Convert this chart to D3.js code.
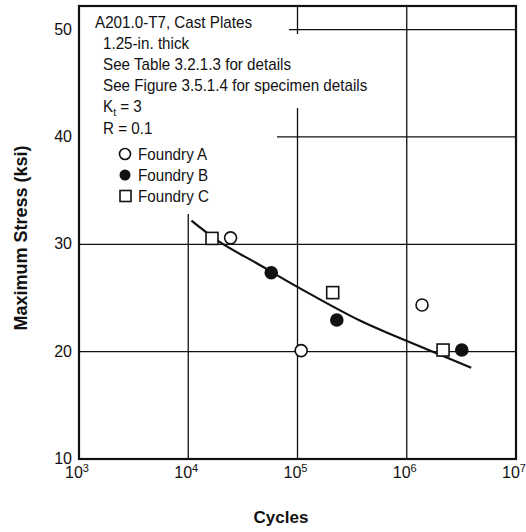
<!DOCTYPE html>
<html><head><meta charset="utf-8">
<script src="https://cdn.jsdelivr.net/npm/d3@7"></script>
<style>
body{margin:0;background:#fff;}
svg{display:block;}
text{font-family:"Liberation Sans Narrow","Arial Narrow","Liberation Sans",sans-serif;fill:#111;}
</style></head>
<body>
<svg id="chart" width="526" height="532"></svg>
<script>
// ---- data ----
const xTicks = [1e3, 1e4, 1e5, 1e6, 1e7];
const xTickExp = ["3", "4", "5", "6", "7"];
const yTicks = [10, 20, 30, 40, 50];
const gridX = [1e4, 1e5, 1e6];
const gridY = [20, 30, 40, 50];

const foundryA = [[2.44e4, 30.6], [1.08e5, 20.1], [1.38e6, 24.35]];
const foundryB = [[5.75e4, 27.35], [2.29e5, 22.95], [3.19e6, 20.15]];
const foundryC = [[1.65e4, 30.55], [2.10e5, 25.5], [2.15e6, 20.15]];

const fitN = [1.07e4, 1.95e4, 4.47e4, 9.33e4, 3.72e5, 8.51e5, 3.89e6];
const fitS = [32.2, 30.2, 28.1, 26.2, 22.9, 21.3, 18.5];

const noteLines = ["1.25-in. thick", "See Table 3.2.1.3 for details", "See Figure 3.5.1.4 for specimen details"];
const legendNames = ["Foundry A", "Foundry B", "Foundry C"];

// ---- layout ----
const svg = d3.select("#chart");
const x = d3.scaleLog().domain([1e3, 1e7]).range([79, 516]);
const y = d3.scaleLinear().domain([10, 52.2]).range([459, 6]);
const ink = "#111";
const squeeze = 0.95;

// grid
svg.append("g").selectAll("line").data(gridX).join("line")
  .attr("x1", d => x(d)).attr("x2", d => x(d))
  .attr("y1", y.range()[1]).attr("y2", y.range()[0])
  .attr("stroke", ink).attr("stroke-width", 1.3);
svg.append("g").selectAll("line").data(gridY).join("line")
  .attr("y1", d => y(d)).attr("y2", d => y(d))
  .attr("x1", x.range()[0]).attr("x2", x.range()[1])
  .attr("stroke", ink).attr("stroke-width", 1.3);

// white panel behind the notes (masks grid)
svg.append("rect").attr("x", 80).attr("y", 7).attr("width", 209).attr("height", 101).attr("fill", "#fff");
svg.append("rect").attr("x", 80).attr("y", 34).attr("width", 222).attr("height", 74).attr("fill", "#fff");
svg.append("rect").attr("x", 80).attr("y", 7).attr("width", 197).attr("height", 207).attr("fill", "#fff");

// frame
svg.append("rect").attr("x", x.range()[0]).attr("y", y.range()[1])
  .attr("width", x.range()[1] - x.range()[0]).attr("height", y.range()[0] - y.range()[1])
  .attr("fill", "none").attr("stroke", ink).attr("stroke-width", 2.2);

// y tick labels
svg.append("g").selectAll("text").data(yTicks).join("text")
  .attr("x", 72).attr("y", d => y(d) + 5).attr("text-anchor", "end")
  .attr("font-size", 16).text(d => d);

// x tick labels
const xl = svg.append("g").selectAll("text").data(xTicks).join("text")
  .attr("x", d => x(d) - 2).attr("y", 478).attr("text-anchor", "middle").attr("font-size", 16);
xl.append("tspan").text("10");
xl.append("tspan").attr("dy", -6).attr("font-size", 11).text((d, i) => xTickExp[i]);

// axis titles
svg.append("text").attr("x", 281).attr("y", 523).attr("text-anchor", "middle")
  .attr("font-size", 17).attr("font-weight", "bold").text("Cycles");
svg.append("text").attr("transform", "translate(27,238) rotate(-90)").attr("text-anchor", "middle")
  .attr("font-size", 18).attr("font-weight", "bold").text("Maximum Stress (ksi)");

// fit curve
const line = d3.line().x(d => x(d[0])).y(d => y(d[1])).curve(d3.curveCatmullRom);
svg.append("path").datum(fitN.map((n, i) => [n, fitS[i]])).attr("d", line)
  .attr("fill", "none").attr("stroke", ink).attr("stroke-width", 2.2);

// markers
function circles(data, filled) {
  svg.append("g").selectAll("circle").data(data).join("circle")
    .attr("cx", d => x(d[0])).attr("cy", d => y(d[1])).attr("r", 6)
    .attr("fill", filled ? ink : "#fff").attr("stroke", ink).attr("stroke-width", 1.6);
}
circles(foundryA, false);
circles(foundryB, true);
svg.append("g").selectAll("rect").data(foundryC).join("rect")
  .attr("x", d => x(d[0]) - 6).attr("y", d => y(d[1]) - 6).attr("width", 12).attr("height", 12)
  .attr("fill", "#fff").attr("stroke", ink).attr("stroke-width", 1.6);

// notes
const fs = 16;
function note(tx, ty) {
  return svg.append("text").attr("transform", `translate(${tx},${ty}) scale(${squeeze},1)`).attr("font-size", fs);
}
note(95, 28).text("A201.0-T7, Cast Plates");
noteLines.forEach((t, i) => note(103, 49 + i * 20.8).text(t));
const kt = note(103, 112);
kt.append("tspan").text("K");
kt.append("tspan").attr("dy", 4).attr("font-size", 11).text("t");
kt.append("tspan").attr("dy", -4).text(" = 3");
note(103, 134).text("R = 0.1");

// legend
const lg = svg.append("g");
legendNames.forEach((name, i) => {
  const cy = 154 + i * 21;
  if (i === 0) lg.append("circle").attr("cx", 125).attr("cy", cy).attr("r", 5.5).attr("fill", "#fff").attr("stroke", ink).attr("stroke-width", 1.6);
  if (i === 1) lg.append("circle").attr("cx", 125).attr("cy", cy).attr("r", 5.5).attr("fill", ink);
  if (i === 2) lg.append("rect").attr("x", 120).attr("y", cy - 5.5).attr("width", 11).attr("height", 11).attr("fill", "#fff").attr("stroke", ink).attr("stroke-width", 1.6);
  note(138, cy + 6).text(name);
});
</script>
</body></html>
